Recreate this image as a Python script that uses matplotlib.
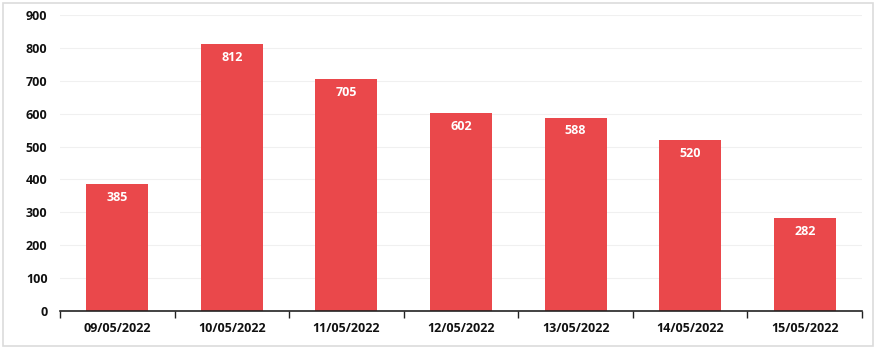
import matplotlib
matplotlib.use("Agg")
import matplotlib.pyplot as plt
from matplotlib.patches import Rectangle
import numpy as np

dates = ["09/05/2022", "10/05/2022", "11/05/2022", "12/05/2022",
         "13/05/2022", "14/05/2022", "15/05/2022"]
values = [385, 812, 705, 602, 588, 520, 282]
y_ticks = [0, 100, 200, 300, 400, 500, 600, 700, 800, 900]

plt.rcParams['font.family'] = ['Open Sans', 'DejaVu Sans']

fig = plt.figure(figsize=(8.8, 3.51), dpi=100)
ax = fig.add_axes([60/880, 40/351, (862-60)/880, (311-15)/351])

x = np.arange(len(dates))
bars = ax.bar(x, values, width=0.54, color='#EA484B', zorder=3)
for xi, v in zip(x, values):
    ax.annotate(str(v), xy=(xi, v), xytext=(0, -9.5), textcoords='offset points',
                ha='center', va='center', color='white', fontsize=9, fontweight='bold', zorder=4)

ax.set_xlim(-0.5, len(dates) - 0.5)
ax.set_ylim(0, 900)
ax.set_yticks(y_ticks)
ax.set_yticklabels([str(t) for t in y_ticks], fontsize=9, fontweight='bold', color='#111111')
ax.set_xticks(x)
ax.set_xticklabels(dates, fontsize=9, fontweight='bold', color='#111111')
ax.set_xticks(np.arange(-0.5, len(dates), 1.0), minor=True)
ax.tick_params(axis='x', which='major', length=0, pad=8)
ax.tick_params(axis='x', which='minor', length=5, width=1, direction='out', color='#222222')
ax.tick_params(axis='y', length=0, pad=9)

ax.grid(axis='y', color='#f0f0f0', linewidth=0.8, zorder=0)
for s in ['top', 'right', 'left']:
    ax.spines[s].set_visible(False)
ax.spines['bottom'].set_color('#222222')
ax.spines['bottom'].set_linewidth(1.2)
ax.spines['bottom'].set_zorder(5)

fig.patches.append(Rectangle((3/880, 5/351), 870/880, 343/351, transform=fig.transFigure,
                             fill=False, edgecolor='#dcdcdc', linewidth=1.2))

fig.savefig("out.png", dpi=100)
